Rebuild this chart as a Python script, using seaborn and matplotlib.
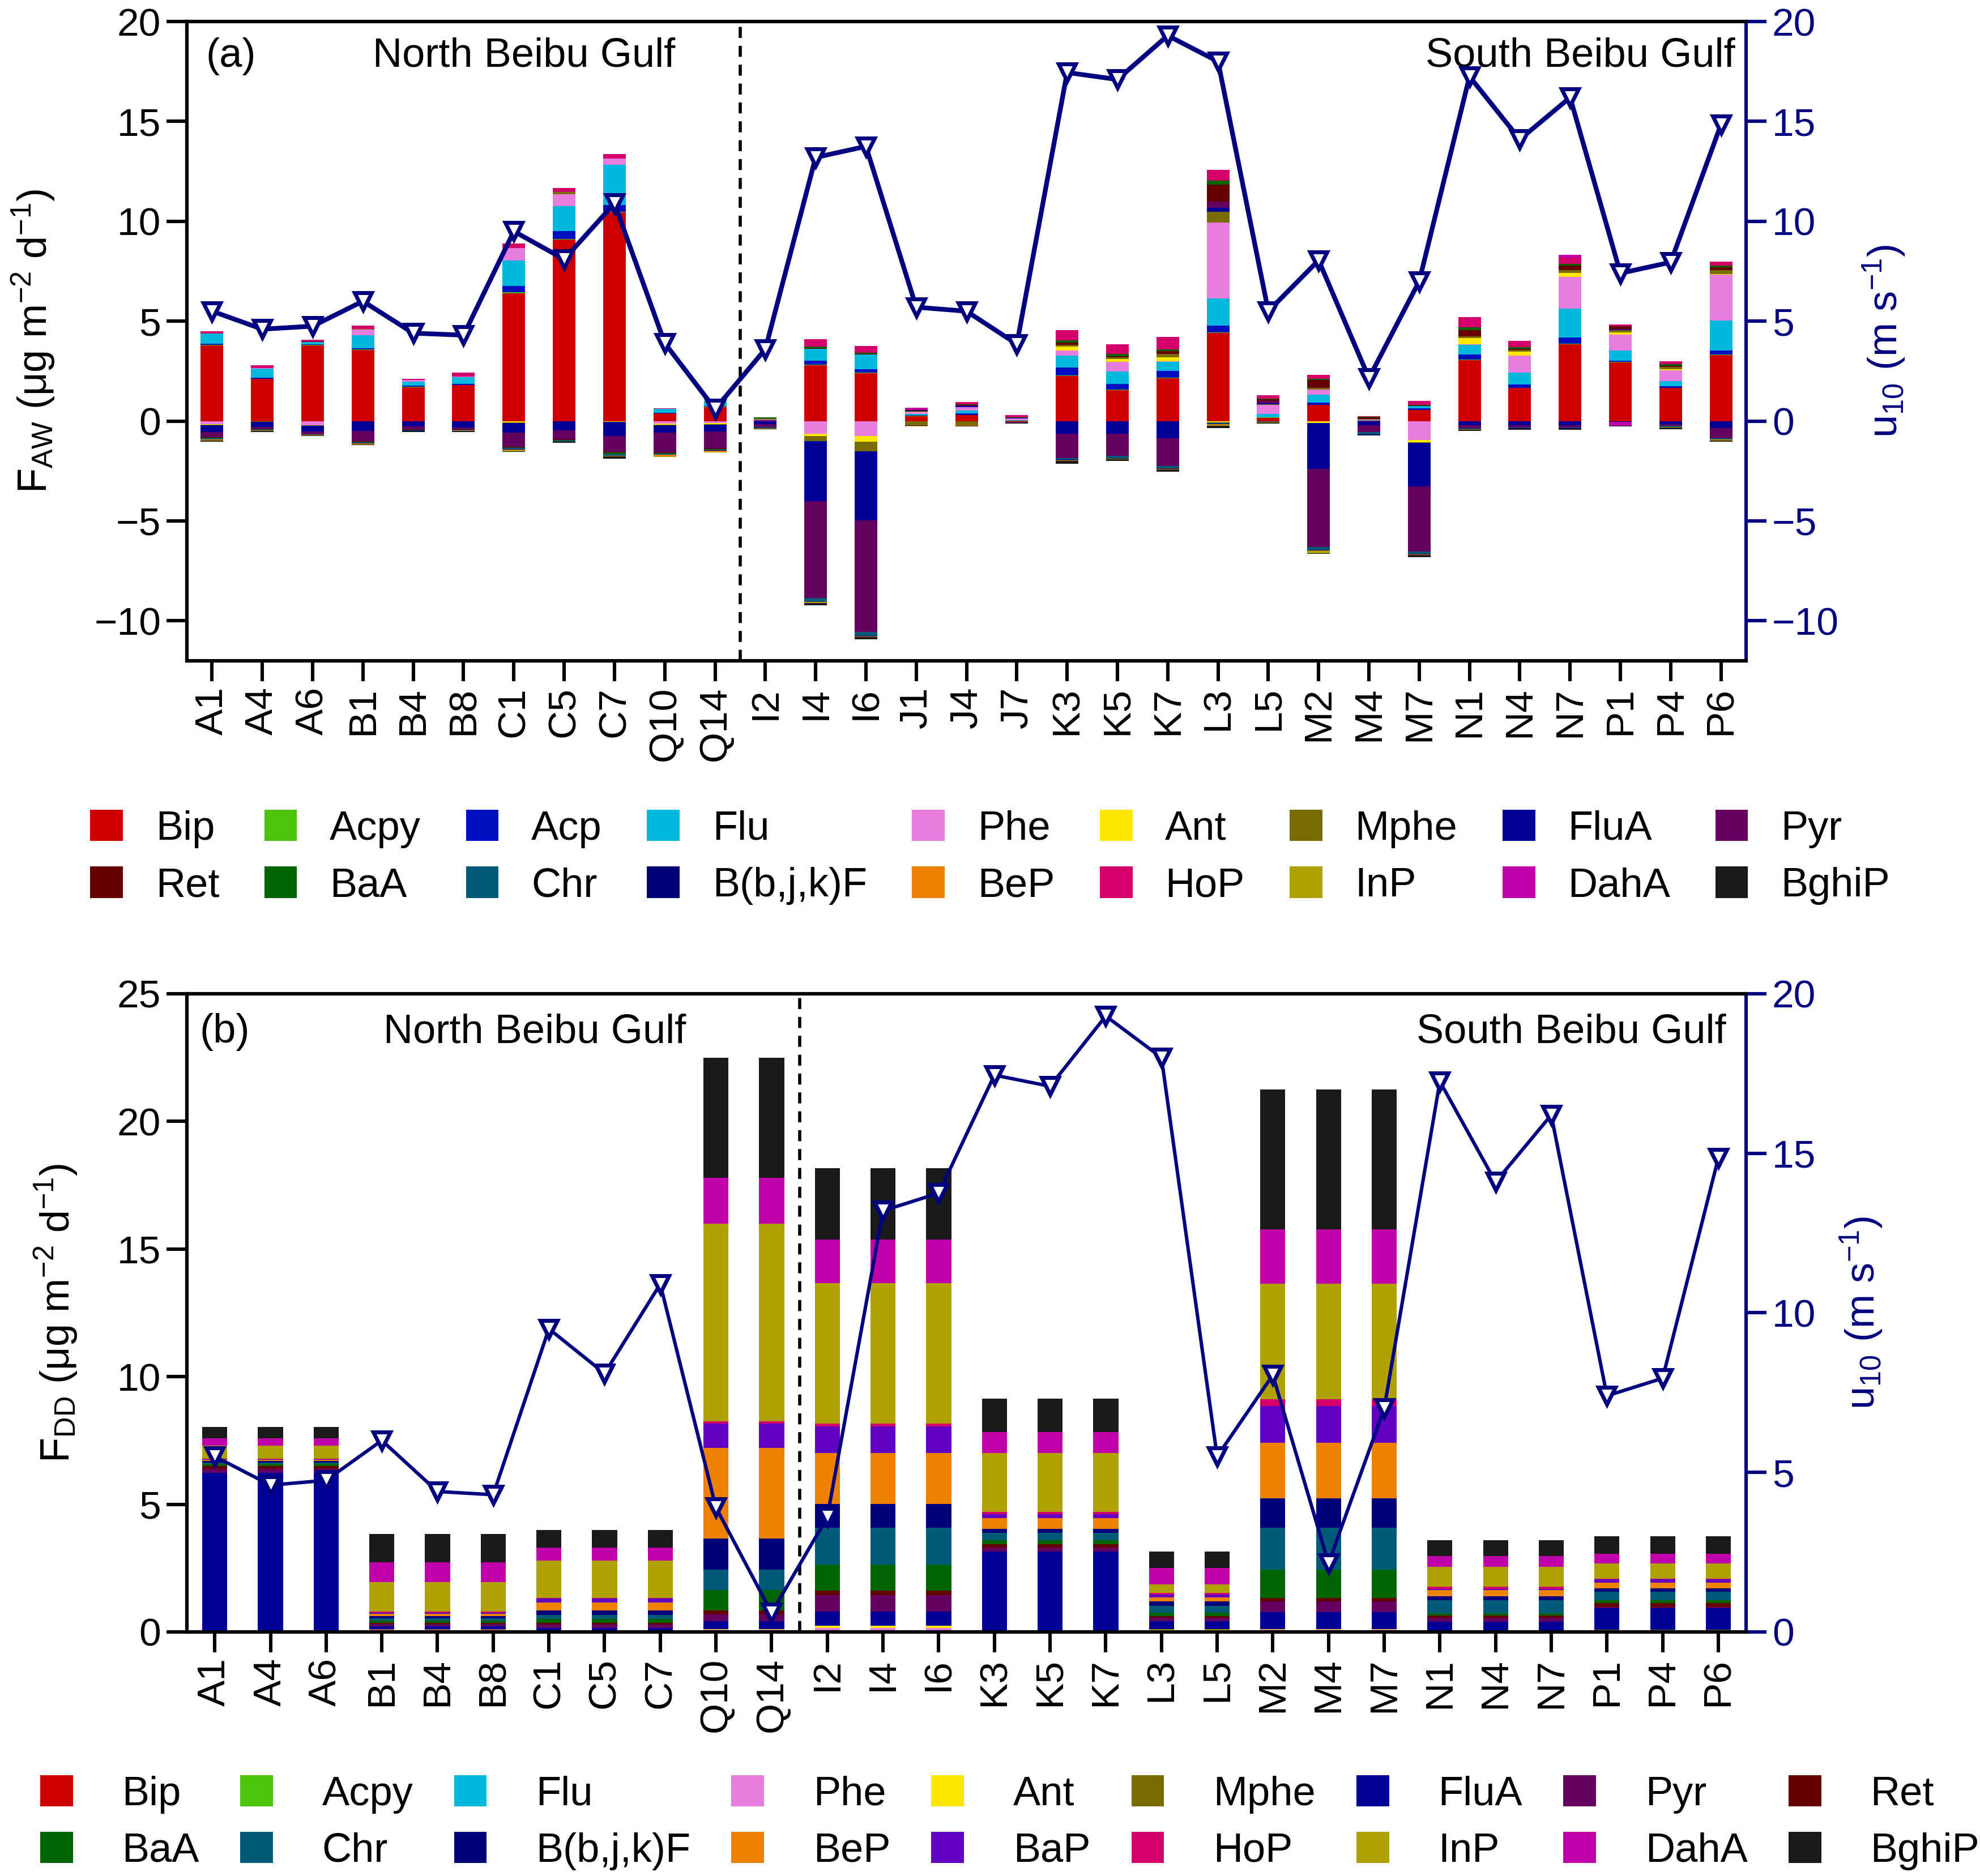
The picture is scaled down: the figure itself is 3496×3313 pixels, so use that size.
import numpy as np
import matplotlib
matplotlib.use("Agg")
import matplotlib.pyplot as plt
import seaborn as sns

# stations
stations_aw = ['A1', 'A4', 'A6', 'B1', 'B4', 'B8', 'C1', 'C5', 'C7', 'Q10', 'Q14', 'I2', 'I4', 'I6',
               'J1', 'J4', 'J7', 'K3', 'K5', 'K7', 'L3', 'L5', 'M2', 'M4', 'M7', 'N1', 'N4', 'N7',
               'P1', 'P4', 'P6']
stations_dd = ['A1', 'A4', 'A6', 'B1', 'B4', 'B8', 'C1', 'C5', 'C7', 'Q10', 'Q14', 'I2', 'I4', 'I6',
               'K3', 'K5', 'K7', 'L3', 'L5', 'M2', 'M4', 'M7', 'N1', 'N4', 'N7', 'P1', 'P4', 'P6']

# wind speed u10 (m s-1)
u10_aw = [5.5, 4.6, 4.75, 6.0, 4.4, 4.3, 9.5, 8.1, 10.9, 3.9, 0.6, 3.6, 13.2, 13.75,
          5.7, 5.5, 3.85, 17.45, 17.1, 19.3, 18.0, 5.5, 8.05, 2.15, 7.0, 17.25, 14.1, 16.2,
          7.4, 7.95, 14.85]
u10_dd = [5.5, 4.6, 4.75, 6.0, 4.4, 4.3, 9.5, 8.1, 10.9, 3.9, 0.6, 3.6, 13.2, 13.75,
          17.45, 17.1, 19.3, 18.0, 5.5, 8.05, 2.15, 7.0, 17.25, 14.1, 16.2, 7.4, 7.95, 14.85]

# (a) air-water exchange flux F_AW per compound
aw_bip = [3.8, 2.1, 3.8, 3.55, 1.7, 1.8, 6.4, 9.1, 10.45, 0.38, 0.7, 0.02, 2.8, 2.4, 0.25, 0.3,
          0.02, 2.25, 1.55, 2.15, 4.4, 0.17, 0.8, 0.02, 0.55, 3.05, 1.65, 3.85, 2.95, 1.65, 3.3]
aw_acpy = [0.02, 0.02, 0.01, 0.03, 0.01, 0.01, 0.05, 0.02, 0.03, 0, 0.02, 0.01, 0.02, 0.02, 0.01,
           0.01, 0, 0.02, 0.02, 0.02, 0.03, 0.01, 0.02, 0, 0.01, 0.02, 0.02, 0.02, 0.02, 0.02, 0.02]
aw_acp = [0.05, 0.05, 0.02, 0.07, 0.05, 0.06, 0.3, 0.4, 0.35, 0.02, 0.03, 0.01, 0.2, 0.17, 0.05,
          0.08, 0.01, 0.4, 0.3, 0.35, 0.35, 0.02, 0.1, 0.01, 0.08, 0.25, 0.15, 0.3, 0.05, 0.08, 0.2]
aw_flu = [0.5, 0.45, 0.12, 0.65, 0.2, 0.32, 1.3, 1.25, 2.0, 0.2, 0.25, 0.01, 0.6, 0.75, 0.05,
          0.15, 0.02, 0.6, 0.6, 0.45, 1.35, 0.15, 0.4, 0.01, 0.12, 0.5, 0.6, 1.45, 0.5, 0.25, 1.5]
aw_phe = [-0.15, 0.03, -0.2, 0.28, 0.1, 0.05, 0.6, 0.6, 0.3, -0.12, -0.1, 0.01, -0.65, -0.75, 0.08,
          0.15, 0.08, 0.25, 0.5, 0.03, 3.8, 0.45, 0.25, 0.02, -0.95, 0.03, 0.85, 1.6, 0.8, 0.55, 2.3]
aw_ant = [-0.02, -0.02, -0.01, -0.02, -0.01, -0.01, -0.06, -0.02, -0.03, -0.05, -0.05, 0.01, -0.1,
          -0.28, 0.02, 0.02, 0.01, 0.2, 0.15, 0.2, -0.08, 0.02, -0.1, 0.01, -0.1, 0.3, 0.2, 0.2,
          0.12, 0.05, 0.05]
aw_mphe = [-0.03, -0.02, -0.02, 0.02, -0.01, -0.01, -0.03, 0.1, -0.02, -0.03, -0.03, 0.05, -0.25,
           -0.48, -0.2, -0.2, -0.05, 0.1, 0.08, 0.15, 0.55, 0.03, 0.1, 0.02, -0.03, 0.1, 0.08, 0.15,
           0.12, 0.12, 0.2]
aw_flua = [-0.35, -0.25, -0.28, -0.48, -0.25, -0.3, -0.5, -0.45, -0.7, -0.38, -0.35, -0.15, -3.0,
           -3.45, 0.05, 0.05, 0.02, -0.65, -0.65, -0.85, 0.2, 0.05, -2.3, -0.2, -2.2, -0.2, -0.2,
           -0.2, 0.03, -0.15, -0.35]
aw_pyr = [-0.25, -0.12, -0.15, -0.5, -0.15, -0.1, -0.7, -0.45, -0.8, -1.0, -0.85, -0.15, -4.85,
          -5.6, -0.03, 0.03, -0.04, -1.2, -1.1, -1.4, 0.3, 0.1, -3.9, -0.35, -3.25, -0.15, -0.12,
          -0.12, 0.03, -0.1, -0.5]
aw_ret = [-0.03, -0.01, 0.03, -0.02, -0.01, -0.01, -0.02, -0.02, -0.02, -0.02, -0.02, 0.02, 0.02,
          0.02, 0.02, 0.02, 0.01, 0.12, 0.05, 0.15, 0.85, 0.1, 0.4, 0.1, 0.02, 0.3, 0.08, 0.2,
          0.12, 0.05, 0.12]
aw_baa = [-0.03, -0.02, -0.01, -0.04, -0.02, -0.02, -0.03, -0.04, -0.08, -0.03, -0.04, 0.05, 0.1,
          0.05, 0.01, 0.02, 0.01, 0.1, 0.1, 0.1, 0.2, 0.03, 0.05, 0.02, 0.02, 0.15, 0.08, 0.1,
          0.02, 0.08, 0.1]
aw_chr = [-0.05, -0.03, -0.02, -0.04, -0.03, -0.02, -0.06, -0.04, -0.08, -0.05, -0.03, -0.03, -0.2,
          -0.2, -0.01, -0.02, -0.01, -0.1, -0.1, -0.12, -0.05, -0.03, -0.15, -0.12, -0.12, -0.04,
          -0.04, -0.04, -0.02, -0.04, -0.06]
aw_bbjkf = [-0.02, -0.01, -0.01, -0.01, -0.01, -0.01, -0.02, -0.01, -0.02, -0.01, -0.01, -0.02,
            -0.02, -0.02, 0.01, 0.01, 0, -0.02, -0.02, -0.02, -0.02, -0.01, -0.02, -0.01, -0.02,
            -0.01, -0.01, -0.01, -0.01, -0.01, -0.02]
aw_bep = [-0.02, -0.01, -0.01, -0.05, -0.01, -0.01, -0.03, -0.01, -0.02, -0.08, -0.06, -0.01, -0.02,
          -0.02, -0.01, -0.02, 0, -0.02, -0.02, -0.02, -0.03, -0.01, -0.02, -0.01, -0.02, -0.01,
          -0.01, -0.01, -0.01, -0.01, -0.02]
aw_hop = [0.13, 0.15, 0.08, 0.18, 0.06, 0.18, 0.25, 0.2, 0.25, 0.03, 0.02, 0.01, 0.35, 0.35, 0.03,
          0.12, 0.1, 0.5, 0.5, 0.6, 0.55, 0.15, 0.2, 0.02, 0.2, 0.5, 0.3, 0.3, 0.08, 0.15, 0.2]
aw_inp = [-0.02, 0, 0, -0.02, 0, 0, -0.07, 0, 0, -0.02, -0.02, -0.01, -0.02, -0.02, -0.01, -0.01,
          0, -0.02, -0.02, -0.02, -0.05, -0.01, -0.12, 0, -0.02, -0.02, -0.01, -0.01, -0.01, -0.01,
          -0.02]
aw_daha = [0, 0, 0, 0, 0, 0, 0, 0, 0, 0, 0, 0, 0, 0, 0.08, 0, 0.02, 0, 0, 0, 0, 0, 0, 0, 0, 0, 0,
           0.15, -0.2, 0, 0]
aw_bghip = [-0.05, -0.06, -0.05, -0.02, -0.05, -0.05, -0.02, -0.06, -0.1, -0.02, -0.02, -0.05,
            -0.12, -0.12, -0.02, -0.02, -0.02, -0.12, -0.1, -0.1, -0.12, -0.08, -0.03, -0.02, -0.1,
            -0.07, -0.06, -0.06, -0.02, -0.08, -0.06]

# (b) dry deposition flux F_DD per compound
dd_bip = [0.01, 0.01, 0.01, 0.02, 0.02, 0.02, 0.01, 0.01, 0.01, 0.03, 0.03, 0.02, 0.02, 0.02,
          0.01, 0.01, 0.01, 0.02, 0.02, 0.03, 0.03, 0.03, 0.01, 0.01, 0.01, 0.02, 0.02, 0.02]
dd_acpy = [0, 0, 0, 0, 0, 0, 0, 0, 0, 0.01, 0.01, 0, 0, 0,
           0, 0, 0, 0, 0, 0.01, 0.01, 0.01, 0, 0, 0, 0, 0, 0]
dd_flu = [0.01, 0.01, 0.01, 0.03, 0.03, 0.03, 0.01, 0.01, 0.01, 0.02, 0.02, 0.02, 0.02, 0.02,
          0.01, 0.01, 0.01, 0.02, 0.02, 0.02, 0.02, 0.02, 0.01, 0.01, 0.01, 0.02, 0.02, 0.02]
dd_phe = [0.01, 0.01, 0.01, 0.03, 0.03, 0.03, 0.01, 0.01, 0.01, 0.03, 0.03, 0.12, 0.12, 0.12,
          0.01, 0.01, 0.01, 0.03, 0.03, 0.03, 0.03, 0.03, 0.01, 0.01, 0.01, 0.02, 0.02, 0.02]
dd_ant = [0, 0, 0, 0.01, 0.01, 0.01, 0, 0, 0, 0.02, 0.02, 0.08, 0.08, 0.08,
          0, 0, 0, 0.02, 0.02, 0.02, 0.02, 0.02, 0.01, 0.01, 0.01, 0.01, 0.01, 0.01]
dd_mphe = [0.01, 0.01, 0.01, 0.02, 0.02, 0.02, 0.01, 0.01, 0.01, 0.01, 0.01, 0.01, 0.01, 0.01,
           0.01, 0.01, 0.01, 0.01, 0.01, 0.01, 0.01, 0.01, 0.01, 0.01, 0.01, 0.01, 0.01, 0.01]
dd_flua = [6.2, 6.2, 6.2, 0.12, 0.12, 0.12, 0.12, 0.12, 0.12, 0.3, 0.3, 0.54, 0.54, 0.54,
           3.1, 3.1, 3.1, 0.31, 0.31, 0.65, 0.65, 0.65, 0.34, 0.34, 0.34, 0.85, 0.85, 0.85]
dd_pyr = [0.15, 0.15, 0.15, 0.08, 0.08, 0.08, 0.12, 0.12, 0.12, 0.26, 0.26, 0.65, 0.65, 0.65,
          0.17, 0.17, 0.17, 0.14, 0.14, 0.43, 0.43, 0.43, 0.17, 0.17, 0.17, 0.05, 0.05, 0.05]
dd_ret = [0.1, 0.1, 0.1, 0.05, 0.05, 0.05, 0.08, 0.08, 0.08, 0.17, 0.17, 0.17, 0.17, 0.17,
          0.12, 0.12, 0.12, 0.07, 0.07, 0.12, 0.12, 0.12, 0.09, 0.09, 0.09, 0.14, 0.14, 0.14]
dd_baa = [0.1, 0.1, 0.1, 0.08, 0.08, 0.08, 0.14, 0.14, 0.14, 0.8, 0.8, 1.02, 1.02, 1.02,
          0.17, 0.17, 0.17, 0.14, 0.14, 1.12, 1.12, 1.12, 0.09, 0.09, 0.09, 0.12, 0.12, 0.12]
dd_chr = [0.05, 0.05, 0.05, 0.1, 0.1, 0.1, 0.17, 0.17, 0.17, 0.78, 0.78, 1.45, 1.45, 1.45,
          0.29, 0.29, 0.29, 0.26, 0.26, 1.65, 1.65, 1.65, 0.51, 0.51, 0.51, 0.34, 0.34, 0.34]
dd_bbjkf = [0.05, 0.05, 0.05, 0.08, 0.08, 0.08, 0.17, 0.17, 0.17, 1.23, 1.23, 0.94, 0.94, 0.94,
            0.14, 0.14, 0.14, 0.17, 0.17, 1.14, 1.14, 1.14, 0.14, 0.14, 0.14, 0.12, 0.12, 0.12]
dd_bep = [0.05, 0.05, 0.05, 0.1, 0.1, 0.1, 0.32, 0.32, 0.32, 3.54, 3.54, 1.99, 1.99, 1.99,
          0.43, 0.43, 0.43, 0.17, 0.17, 2.18, 2.18, 2.18, 0.24, 0.24, 0.24, 0.22, 0.22, 0.22]
dd_bap = [0.03, 0.03, 0.03, 0.03, 0.03, 0.03, 0.14, 0.14, 0.14, 0.97, 0.97, 1.04, 1.04, 1.04,
          0.15, 0.15, 0.15, 0.1, 0.1, 1.45, 1.45, 1.45, 0.05, 0.05, 0.05, 0.14, 0.14, 0.14]
dd_hop = [0.02, 0.02, 0.02, 0.05, 0.05, 0.05, 0.04, 0.04, 0.04, 0.08, 0.08, 0.12, 0.12, 0.12,
          0.1, 0.1, 0.1, 0.07, 0.07, 0.26, 0.26, 0.26, 0.09, 0.09, 0.09, 0.03, 0.03, 0.03]
dd_inp = [0.5, 0.5, 0.5, 1.16, 1.16, 1.16, 1.45, 1.45, 1.45, 7.75, 7.75, 5.5, 5.5, 5.5,
          2.3, 2.3, 2.3, 0.34, 0.34, 4.51, 4.51, 4.51, 0.77, 0.77, 0.77, 0.6, 0.6, 0.6]
dd_daha = [0.3, 0.3, 0.3, 0.77, 0.77, 0.77, 0.51, 0.51, 0.51, 1.79, 1.79, 1.7, 1.7, 1.7,
           0.82, 0.82, 0.82, 0.63, 0.63, 2.13, 2.13, 2.13, 0.43, 0.43, 0.43, 0.37, 0.37, 0.37]
dd_bghip = [0.45, 0.45, 0.45, 1.1, 1.1, 1.1, 0.7, 0.7, 0.7, 4.7, 4.7, 2.79, 2.79, 2.79,
            1.31, 1.31, 1.31, 0.65, 0.65, 5.5, 5.5, 5.5, 0.63, 0.63, 0.63, 0.68, 0.68, 0.68]

names_aw = ['Bip', 'Acpy', 'Acp', 'Flu', 'Phe', 'Ant', 'Mphe', 'FluA', 'Pyr',
            'Ret', 'BaA', 'Chr', 'B(b,j,k)F', 'BeP', 'HoP', 'InP', 'DahA', 'BghiP']
series_aw = [aw_bip, aw_acpy, aw_acp, aw_flu, aw_phe, aw_ant, aw_mphe, aw_flua, aw_pyr,
             aw_ret, aw_baa, aw_chr, aw_bbjkf, aw_bep, aw_hop, aw_inp, aw_daha, aw_bghip]
names_dd = ['Bip', 'Acpy', 'Flu', 'Phe', 'Ant', 'Mphe', 'FluA', 'Pyr', 'Ret',
            'BaA', 'Chr', 'B(b,j,k)F', 'BeP', 'BaP', 'HoP', 'InP', 'DahA', 'BghiP']
series_dd = [dd_bip, dd_acpy, dd_flu, dd_phe, dd_ant, dd_mphe, dd_flua, dd_pyr, dd_ret,
             dd_baa, dd_chr, dd_bbjkf, dd_bep, dd_bap, dd_hop, dd_inp, dd_daha, dd_bghip]

colors = {'Bip': '#CC0000', 'Acpy': '#4CC40C', 'Acp': '#0010C0', 'Flu': '#00B8DC',
          'Phe': '#E87DE0', 'Ant': '#FFE800', 'Mphe': '#786C00', 'FluA': '#000099',
          'Pyr': '#640060', 'Ret': '#640000', 'BaA': '#006400', 'Chr': '#005A78',
          'B(b,j,k)F': '#00007A', 'BeP': '#F08000', 'BaP': '#6000C0', 'HoP': '#D4006A',
          'InP': '#B0A000', 'DahA': '#C000A8', 'BghiP': '#1A1A1A'}
NAVY = '#000080'

sns.set_theme(style="ticks", rc={'text.color': 'black', 'axes.labelcolor': 'black',
                                 'xtick.color': 'black', 'ytick.color': 'black',
                                 'axes.edgecolor': 'black'})
plt.rcParams['font.family'] = ['Liberation Sans', 'DejaVu Sans']
plt.rcParams['mathtext.default'] = 'regular'

FS = 25

fig = plt.figure(figsize=(17.48, 16.565), dpi=200)
ax_a = fig.add_axes([0.0944, 0.6478, 0.7875, 0.3407])
ax_b = fig.add_axes([0.0944, 0.1301, 0.7875, 0.3402])


def stacked(ax, names, series):
    x = np.arange(len(series[0]))
    pos = np.zeros(len(x))
    neg = np.zeros(len(x))
    handles = []
    for name, vals in zip(names, series):
        v = np.asarray(vals, dtype=float)
        p = np.clip(v, 0, None)
        n = np.clip(v, None, 0)
        h = ax.bar(x, p, 0.45, bottom=pos, color=colors[name], linewidth=0, label=name)
        ax.bar(x, n, 0.45, bottom=neg, color=colors[name], linewidth=0)
        pos += p
        neg += n
        handles.append(h)
    return handles


def wind(ax, u10, lw):
    ax2 = ax.twinx()
    sns.lineplot(x=np.arange(len(u10)), y=u10, ax=ax2, color=NAVY, linewidth=lw,
                 marker='v', markersize=11, markerfacecolor='white',
                 markeredgecolor=NAVY, markeredgewidth=2.5)
    return ax2


def style(ax, ax2, labels):
    ax.set_xticks(np.arange(len(labels)))
    ax.set_xticklabels(labels, rotation=90)
    ax.set_xlim(-0.5, len(labels) - 0.5)
    for a in (ax, ax2):
        for s in a.spines.values():
            s.set_linewidth(2.2)
            s.set_color('black')
    ax.spines['right'].set_visible(False)
    ax2.spines['right'].set_color(NAVY)
    ax.tick_params(axis='both', direction='out', length=13, width=2.2, labelsize=FS,
                   colors='black')
    ax2.tick_params(axis='y', direction='out', length=13, width=2.2, labelsize=FS,
                    colors=NAVY)
    ax.axvline(10.5, color='black', linestyle=(0, (3.5, 2.5)), linewidth=2)


def legend(handles, names, x, y, textpad, spacing):
    order = [i for pair in zip(range(9), range(9, 18)) for i in pair]
    fig.legend([handles[i] for i in order], [names[i] for i in order],
               loc='center', bbox_to_anchor=(x, y), ncol=9, frameon=False,
               fontsize=FS + 1, handlelength=0.8, handleheight=0.8, handletextpad=textpad,
               columnspacing=spacing, labelspacing=0.45)


# panel (a)
h_a = stacked(ax_a, names_aw, series_aw)
ax2_a = wind(ax_a, u10_aw, 3.0)
ax_a.set_ylim(-12, 20)
ax2_a.set_ylim(-12, 20)
ax_a.set_yticks(np.arange(-10, 21, 5))
ax2_a.set_yticks(np.arange(-10, 21, 5))
style(ax_a, ax2_a, stations_aw)
ax_a.set_ylabel('F$_{AW}$ (μg m$^{-2}$ d$^{-1}$)', fontsize=FS + 1, labelpad=24)
ax2_a.set_ylabel('u$_{10}$ (m s$^{-1}$)', fontsize=FS + 1, color=NAVY, labelpad=14)
ax_a.text(0.012, 0.946, '(a)', transform=ax_a.transAxes, fontsize=FS + 1, va='center')
ax_a.text(0.216, 0.946, 'North Beibu Gulf', transform=ax_a.transAxes, fontsize=FS + 1,
          va='center', ha='center')
ax_a.text(0.993, 0.946, 'South Beibu Gulf', transform=ax_a.transAxes, fontsize=FS + 1,
          va='center', ha='right')
legend(h_a, names_aw, 0.5, 0.543, 0.8, 1.1)

# panel (b)
h_b = stacked(ax_b, names_dd, series_dd)
ax2_b = wind(ax_b, u10_dd, 2.2)
ax_b.set_ylim(0, 25)
ax2_b.set_ylim(0, 20)
ax_b.set_yticks(np.arange(0, 26, 5))
ax2_b.set_yticks(np.arange(0, 21, 5))
style(ax_b, ax2_b, stations_dd)
ax_b.set_ylabel('F$_{DD}$ (μg m$^{-2}$ d$^{-1}$)', fontsize=FS + 1, labelpad=24)
ax2_b.set_ylabel('u$_{10}$ (m s$^{-1}$)', fontsize=FS + 1, color=NAVY, labelpad=14)
ax_b.text(0.008, 0.94, '(b)', transform=ax_b.transAxes, fontsize=FS + 1, va='center')
ax_b.text(0.223, 0.94, 'North Beibu Gulf', transform=ax_b.transAxes, fontsize=FS + 1,
          va='center', ha='center')
ax_b.text(0.987, 0.94, 'South Beibu Gulf', transform=ax_b.transAxes, fontsize=FS + 1,
          va='center', ha='right')
legend(h_b, names_dd, 0.51, 0.0284, 1.2, 1.0)

fig.savefig('out.png', dpi=200)
